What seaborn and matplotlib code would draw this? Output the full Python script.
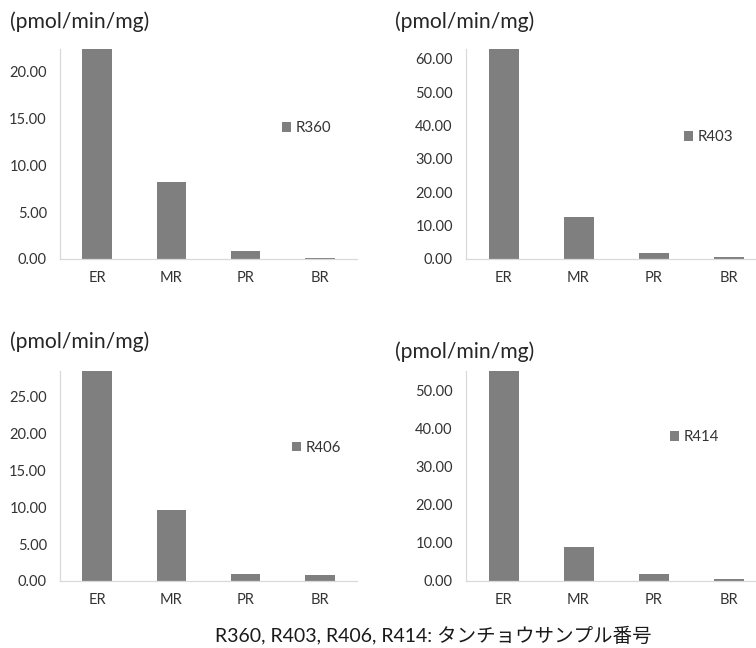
import matplotlib
matplotlib.use("Agg")
import matplotlib.pyplot as plt
import seaborn as sns
import pandas as pd
from matplotlib.ticker import FormatStrFormatter, MultipleLocator

sns.set_theme(style="white")
plt.rcParams['font.family'] = ['Lato', 'Noto Sans CJK JP', 'DejaVu Sans']

# ---- data ----
sites = ["ER", "MR", "PR", "BR"]
samples = ["R360", "R403", "R406", "R414"]
r360 = [22.4, 8.2, 0.9, 0.15]
r403 = [63.0, 12.7, 1.9, 0.55]
r406 = [28.4, 9.6, 0.95, 0.77]
r414 = [55.0, 9.0, 1.8, 0.6]
values = [r360, r403, r406, r414]
unit_label = "(pmol/min/mg)"
caption = "R360, R403, R406, R414: タンチョウサンプル番号"

# ---- layout (pixels) ----
W, H = 756, 648
fig = plt.figure(figsize=(W / 100, H / 100), dpi=100)
fig.patch.set_facecolor("white")

# left, right, top, bottom in pixel coords
boxes = [(60, 357, 49, 259), (466, 766, 49, 259), (60, 357, 371, 581), (466, 766, 371, 581)]
ytops = [22.4, 63.0, 28.4, 55.0]
ysteps = [5, 10, 5, 10]
legend_pos = [(0.747, 0.624), (0.727, 0.581), (0.781, 0.635), (0.680, 0.686)]
title_pos = [(10, 22), (395, 22), (10, 342), (395, 352)]

bar_color = "#7f7f7f"
tick_color = "#333333"
spine_color = "#d9d9d9"

for i, (name, vals) in enumerate(zip(samples, values)):
    l, r, t, b = boxes[i]
    ax = fig.add_axes([l / W, (H - b) / H, (r - l) / W, (b - t) / H])
    df = pd.DataFrame({"site": sites, "value": vals, "sample": name})
    sns.barplot(data=df, x="site", y="value", hue="sample", palette=[bar_color],
                width=0.4, ax=ax, saturation=1, linewidth=0, legend=True)
    ax.set_xlim(-0.5, 3.5)
    ax.set_ylim(0, ytops[i])
    ax.yaxis.set_major_locator(MultipleLocator(ysteps[i]))
    ax.yaxis.set_major_formatter(FormatStrFormatter("%.2f"))
    ax.set_xlabel("")
    ax.set_ylabel("")
    for s in ["top", "right"]:
        ax.spines[s].set_visible(False)
    for s in ["left", "bottom"]:
        ax.spines[s].set_color(spine_color)
        ax.spines[s].set_linewidth(0.9)
    ax.tick_params(axis="both", length=0, labelsize=10.5, colors=tick_color)
    ax.tick_params(axis="y", pad=9.5)
    ax.tick_params(axis="x", pad=8.5)
    ax.patch.set_alpha(0)
    sns.move_legend(ax, loc="center left", bbox_to_anchor=legend_pos[i], frameon=False,
                    title=None, handlelength=0.62, handleheight=0.62, handletextpad=0.3,
                    borderpad=0, borderaxespad=0, fontsize=10.8)
    for txt in ax.get_legend().get_texts():
        txt.set_color(tick_color)
    tx, ty = title_pos[i]
    fig.text(tx / W, (H - ty) / H, unit_label, fontsize=15.2, color="#262626",
             ha="left", va="center")

fig.text(215 / W, (H - 635) / H, caption, fontsize=14, color="#1a1a1a",
         ha="left", va="center", family=["Lato", "Noto Sans CJK JP"])

fig.savefig("out.png", dpi=100, facecolor="white")
